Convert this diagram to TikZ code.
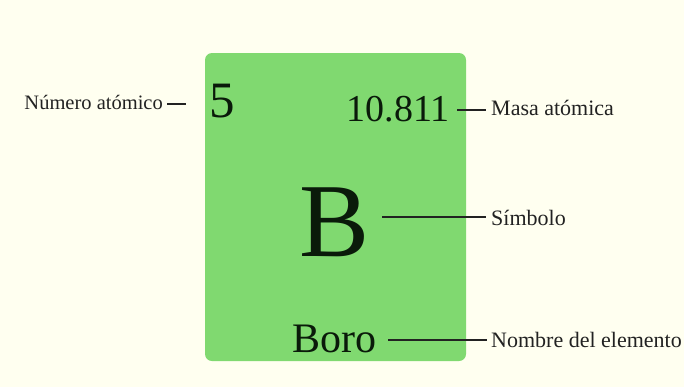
\documentclass[tikz,border=0pt]{standalone}
\usepackage{fontspec}
\setmainfont{Liberation Serif}
\definecolor{bgcol}{HTML}{FFFFF0}
\definecolor{cardgreen}{HTML}{80D970}
\definecolor{lblcol}{HTML}{222222}
\definecolor{numcol}{HTML}{0A1A0A}
\begin{document}
\begin{tikzpicture}[x=1bp,y=-1bp,
  lbl/.style={inner sep=0pt, anchor=base west, text=lblcol, font=\fontsize{22bp}{25bp}\selectfont},
  num/.style={inner sep=0pt, text=numcol},
  conn/.style={draw=lblcol, line width=1.3bp}]
\useasboundingbox (0,0) rectangle (684,387);
\fill[bgcol] (0,0) rectangle (684,387);
\fill[cardgreen, rounded corners=7bp] (205,53) rectangle (466,361);
% values
\node[num, anchor=base west, font=\fontsize{51bp}{55bp}\selectfont] (five) at (209,117) {5};
\node[num, anchor=base east, font=\fontsize{38bp}{42bp}\selectfont] (mass) at (450,121) {10.811};
\node[num, anchor=base, font=\fontsize{105bp}{110bp}\selectfont] (sym) at (334.5,256) {B};
\node[num, anchor=base west, font=\fontsize{42bp}{46bp}\selectfont] (name) at (292,352) {Boro};
% labels
\node[lbl, anchor=base east, font=\fontsize{20.5bp}{24bp}\selectfont] (lnum) at (163,109) {Número atómico};
\node[lbl] (lmass) at (491,115) {Masa atómica};
\node[lbl] (lsym) at (491,225) {Símbolo};
\node[lbl] (lname) at (491,347) {Nombre del elemento};
% connectors
\coordinate (c1a) at (167,104);
\coordinate (c1b) at (186,104);
\coordinate (c2a) at (457,110);
\coordinate (c2b) at (486,110);
\coordinate (c3a) at (382,217);
\coordinate (c3b) at (486,217);
\coordinate (c4a) at (388,340);
\coordinate (c4b) at (487,340);
\draw[conn] (c1a) -- (c1b);
\draw[conn] (c2a) -- (c2b);
\draw[conn] (c3a) -- (c3b);
\draw[conn] (c4a) -- (c4b);
\end{tikzpicture}
\end{document}
